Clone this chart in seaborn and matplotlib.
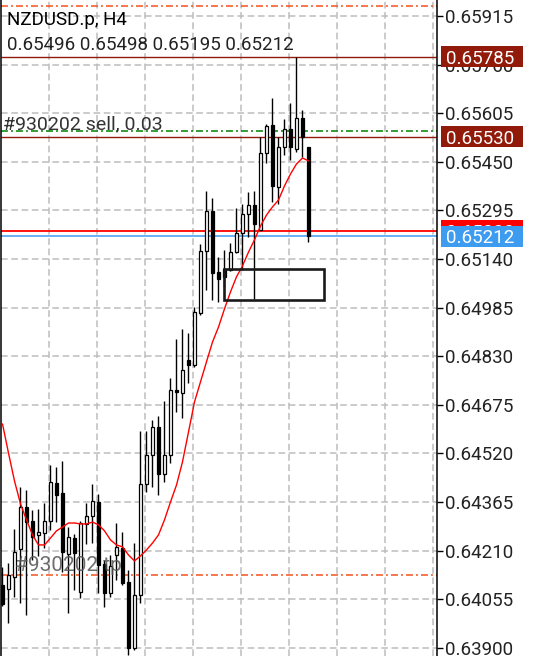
import numpy as np
import pandas as pd
import matplotlib
matplotlib.use("Agg")
import matplotlib.pyplot as plt
import matplotlib.transforms as mtransforms
from matplotlib.patches import Rectangle
import seaborn as sns

# ---- data (NZDUSD.p, H4) ----
symbol_title = "NZDUSD.p, H4"
ohlc_text = "0.65496 0.65498 0.65195 0.65212"
order_text = "#930202 sell, 0.03"
tp_text = "#930202 tp"

opens = [0.64100, 0.64088, 0.64126, 0.64215, 0.64349, 0.64304, 0.64260, 0.64266, 0.64304, 0.64426,
         0.64394, 0.64199, 0.64250, 0.64078, 0.64295, 0.64320, 0.64365, 0.64167, 0.64075, 0.64196,
         0.64218, 0.64110, 0.63899, 0.64068, 0.64422, 0.64515, 0.64604, 0.64454, 0.64515, 0.64722,
         0.64713, 0.64818, 0.64802, 0.64968, 0.65166, 0.65293, 0.65099, 0.65108, 0.65105, 0.65162,
         0.65223, 0.65284, 0.65312, 0.65233, 0.65478, 0.65567, 0.65370, 0.65497, 0.65555, 0.65491,
         0.65590, 0.65496]
highs = [0.64158, 0.64170, 0.64279, 0.64413, 0.64403, 0.64340, 0.64343, 0.64362, 0.64483, 0.64477,
         0.64496, 0.64285, 0.64263, 0.64304, 0.64362, 0.64422, 0.64391, 0.64180, 0.64196, 0.64298,
         0.64269, 0.64148, 0.64234, 0.64591, 0.64591, 0.64627, 0.64639, 0.64687, 0.64760, 0.64885,
         0.64917, 0.64904, 0.64987, 0.65188, 0.65357, 0.65335, 0.65146, 0.65169, 0.65191, 0.65303,
         0.65315, 0.65354, 0.65357, 0.65529, 0.65571, 0.65654, 0.65529, 0.65587, 0.65638, 0.65785,
         0.65615, 0.65498]
lows = [0.64033, 0.63979, 0.64062, 0.64043, 0.64005, 0.64180, 0.64193, 0.64218, 0.64276, 0.64301,
        0.64142, 0.64011, 0.64084, 0.64059, 0.64231, 0.64234, 0.64075, 0.64030, 0.64062, 0.64116,
        0.64100, 0.63877, 0.63893, 0.64043, 0.64397, 0.64413, 0.64387, 0.64429, 0.64489, 0.64652,
        0.64633, 0.64745, 0.64796, 0.64961, 0.65041, 0.65009, 0.65003, 0.65051, 0.65102, 0.65159,
        0.65105, 0.65210, 0.65012, 0.65233, 0.65446, 0.65322, 0.65315, 0.65472, 0.65456, 0.65481,
        0.65465, 0.65195]
closes = [0.64040, 0.64132, 0.64206, 0.64349, 0.64301, 0.64253, 0.64269, 0.64304, 0.64429, 0.64387,
          0.64206, 0.64253, 0.64202, 0.64298, 0.64320, 0.64368, 0.64164, 0.64075, 0.64161, 0.64222,
          0.64107, 0.63899, 0.64068, 0.64422, 0.64515, 0.64604, 0.64454, 0.64515, 0.64722, 0.64716,
          0.64786, 0.64802, 0.64971, 0.65166, 0.65293, 0.65095, 0.65076, 0.65083, 0.65162, 0.65223,
          0.65284, 0.65312, 0.65252, 0.65478, 0.65564, 0.65373, 0.65497, 0.65555, 0.65497, 0.65590,
          0.65529, 0.65212]
ma_values = [0.64614, 0.64521, 0.64432, 0.64359, 0.64308, 0.64260, 0.64228, 0.64228, 0.64250, 0.64273,
             0.64285, 0.64298, 0.64298, 0.64295, 0.64295, 0.64301, 0.64292, 0.64273, 0.64244, 0.64228,
             0.64222, 0.64196, 0.64177, 0.64193, 0.64212, 0.64234, 0.64260, 0.64308, 0.64365, 0.64419,
             0.64493, 0.64588, 0.64684, 0.64748, 0.64812, 0.64875, 0.64923, 0.64981, 0.65035, 0.65083,
             0.65118, 0.65162, 0.65201, 0.65245, 0.65280, 0.65306, 0.65328, 0.65373, 0.65411, 0.65443,
             0.65462, 0.65453]

price_ticks = [0.63900, 0.64055, 0.64210, 0.64365, 0.64520, 0.64675, 0.64830,
               0.64985, 0.65140, 0.65295, 0.65450, 0.65605, 0.65760, 0.65915]

sl_level = 0.65947
tp_level = 0.64132
entry_level = 0.65549
high_level = 0.65785
low_level = 0.65530
ask_level = 0.65230
bid_level = 0.65212

# rectangle object drawn on the chart (bar index / price)
box_start, box_end = 36.87, 53.58
box_top, box_bottom = 0.65109, 0.65009

df = pd.DataFrame({"open": opens, "high": highs, "low": lows, "close": closes, "ma": ma_values})
df["idx"] = np.arange(len(df))

# ---- style ----
sns.set_style("white")
plt.rcParams["font.family"] = ["Roboto", "DejaVu Sans"]
plt.rcParams["lines.scale_dashes"] = False

W, H = 538, 656
fig = plt.figure(figsize=(W / 100, H / 100), dpi=100)
ax = fig.add_axes([1 / W, 0, 436 / W, 1])
ymin, ymax = 0.638738, 0.659660
ax.set_xlim(-0.25, 72.42)
ax.set_ylim(ymin, ymax)

grid_kw = dict(color="#bdbdbd", lw=1.1, dashes=(4.8, 2.6), zorder=0.5)
for gx in np.arange(7.75, 72, 8):
    ax.axvline(gx, **grid_kw)
for t in price_ticks:
    ax.axhline(t, **grid_kw)

# trade levels
dashdot = (5, 2.2, 1.4, 2.2)
ax.axhline(sl_level, color="#f4511e", lw=1.1, dashes=dashdot, zorder=1)
ax.axhline(tp_level, color="#f4511e", lw=1.1, dashes=dashdot, zorder=1)
ax.axhline(entry_level, color="#008000", lw=1.1, dashes=dashdot, zorder=1)
ax.axhline(high_level, color="#911a0b", lw=1.0, zorder=1)
ax.axhline(low_level, color="#911a0b", lw=1.0, zorder=1)
ax.axhline(ask_level, color="#ff0000", lw=1.3, zorder=1)
ax.axhline(bid_level, color="#3d9bf0", lw=1.1, zorder=1)

# candles
up = df["close"] >= df["open"]
ax.vlines(df["idx"], df["low"], df["high"], color="black", lw=1.0, zorder=2.6)
ax.bar(df["idx"], (df["close"] - df["open"]).abs(), bottom=df[["open", "close"]].min(axis=1),
       width=0.66, color=np.where(up, "white", "black"), edgecolor="black", linewidth=0.9, zorder=3)

# moving average
sns.lineplot(data=df, x="idx", y="ma", ax=ax, color="#ff0000", lw=1.0, zorder=3.5)

ax.add_patch(Rectangle((box_start, box_bottom), box_end - box_start, box_top - box_bottom,
                       fill=False, ec="#1a1a1a", lw=1.9, zorder=4))

# axes look
for side in ["top", "bottom"]:
    ax.spines[side].set_visible(False)
for side in ["left", "right"]:
    ax.spines[side].set_color("black")
    ax.spines[side].set_linewidth(1.1)
ax.set_xticks([])
ax.set_xlabel("")
ax.set_ylabel("")
ax.yaxis.tick_right()
ax.set_yticks(price_ticks)
ax.set_yticklabels([f"{t:.5f}" for t in price_ticks])
ax.tick_params(axis="y", length=4, width=1, pad=2, labelsize=13.5, labelcolor="#222222", color="black")

# price labels on the scale (later ones sit on top of earlier ones)
tr = mtransforms.blended_transform_factory(fig.transFigure, ax.transData)
box_h = 21 * (ymax - ymin) / H
labels = [(high_level, "#911a0b"), (low_level, "#911a0b"), (ask_level, "#ff0000"), (bid_level, "#3d9bf0")]
for k, (level, col) in enumerate(labels):
    z = 6 + 2 * k
    ax.add_patch(Rectangle((441 / W, level - box_h / 2), 82 / W, box_h, transform=tr,
                           fc=col, ec="none", clip_on=False, zorder=z))
    ax.text(446 / W, level, f"{level:.5f}", transform=tr, color="white", fontsize=13.5,
            va="center_baseline", ha="left", zorder=z + 1, clip_on=False)

fig.text(7 / W, 1 - 25 / H, symbol_title, fontsize=13.5, color="black", va="baseline")
fig.text(7 / W, 1 - 50 / H, ohlc_text, fontsize=13.5, color="#222222", va="baseline")
fig.text(3 / W, 1 - 129 / H, order_text, fontsize=14, color="#333333", va="baseline")
fig.text(15 / W, 1 - 571 / H, tp_text, fontsize=15, color="#555555", alpha=0.85, va="baseline", zorder=10)

fig.savefig("out.png", dpi=100)
